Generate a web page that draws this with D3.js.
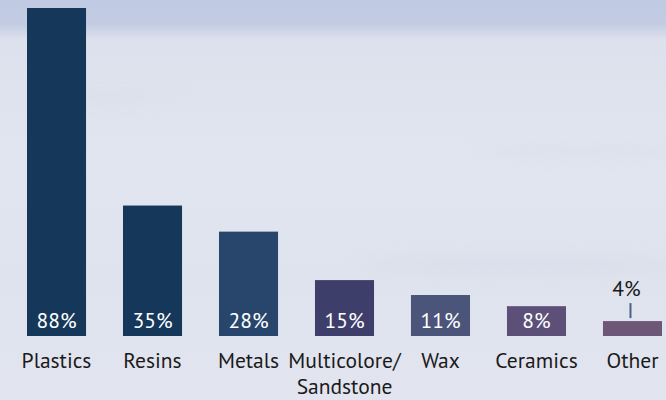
<!DOCTYPE html>
<html>
<head>
<meta charset="utf-8">
<script src="https://cdn.jsdelivr.net/npm/d3@7"></script>
<style>
  html, body { margin: 0; padding: 0; }
  body { width: 666px; height: 400px; overflow: hidden; }
  svg { display: block; }
</style>
</head>
<body>
<div id="chart"></div>
<script>
const categories = ["Plastics", "Resins", "Metals", "Multicolore/\nSandstone", "Wax", "Ceramics", "Other"];
const values = [88, 35, 28, 15, 11, 8, 4];
const valueLabels = ["88%", "35%", "28%", "15%", "11%", "8%", "4%"];
const barColors = ["#15375a", "#15375a", "#28466c", "#3e3e6a", "#4b5479", "#5c5079", "#6e5679"];

const W = 666, H = 400;
const svg = d3.select("#chart").append("svg").attr("width", W).attr("height", H);

// background
const defs = svg.append("defs");
const bg = defs.append("linearGradient").attr("id", "bg").attr("x1", 0).attr("y1", 0).attr("x2", 0).attr("y2", 1);
bg.append("stop").attr("offset", "0%").attr("stop-color", "#c0cae2");
bg.append("stop").attr("offset", "6%").attr("stop-color", "#c3cce3");
bg.append("stop").attr("offset", "10%").attr("stop-color", "#dde1ed");
bg.append("stop").attr("offset", "40%").attr("stop-color", "#e1e5ef");
bg.append("stop").attr("offset", "70%").attr("stop-color", "#dfe3ee");
bg.append("stop").attr("offset", "100%").attr("stop-color", "#e2e5ef");
svg.append("rect").attr("width", W).attr("height", H).attr("fill", "url(#bg)");
const blur = defs.append("filter").attr("id", "blur").attr("x", "-20%").attr("y", "-50%").attr("width", "140%").attr("height", "200%");
blur.append("feGaussianBlur").attr("stdDeviation", 8);
const streaks = svg.append("g").attr("filter", "url(#blur)").attr("fill", "#d5dae7").attr("opacity", 0.5);
streaks.append("ellipse").attr("cx", 110).attr("cy", 98).attr("rx", 70).attr("ry", 4);
streaks.append("ellipse").attr("cx", 580).attr("cy", 152).attr("rx", 110).attr("ry", 5);
streaks.append("ellipse").attr("cx", 520).attr("cy", 265).attr("rx", 160).attr("ry", 9);

const x = d3.scaleBand().domain(categories).range([27, 662]).paddingInner(0.385).paddingOuter(0);
const y = d3.scaleLinear().domain([0, 88]).range([336, 8]);

const font = "'PT Sans', Lato, 'Open Sans', sans-serif";
const fs = 21.5;

const g = svg.append("g");
g.selectAll("rect.bar").data(categories).join("rect")
  .attr("class", "bar")
  .attr("x", d => x(d))
  .attr("width", x.bandwidth())
  .attr("y", (d, i) => y(values[i]))
  .attr("height", (d, i) => y(0) - y(values[i]))
  .attr("fill", (d, i) => barColors[i]);

// value labels
g.selectAll("text.val").data(categories).join("text")
  .attr("class", "val")
  .attr("x", (d, i) => x(d) + x.bandwidth() / 2 - (values[i] >= 8 ? 0 : 6))
  .attr("y", (d, i) => values[i] >= 8 ? y(0) - 8 : y(values[i]) - 25)
  .attr("text-anchor", "middle")
  .attr("font-family", font)
  .attr("font-size", fs)
  .attr("fill", (d, i) => values[i] >= 8 ? "#ffffff" : "#1a1a1a")
  .text((d, i) => valueLabels[i]);

// leader line for small bar
categories.forEach((d, i) => {
  if (values[i] < 8) {
    g.append("line")
      .attr("x1", x(d) + x.bandwidth() / 2 - 2).attr("x2", x(d) + x.bandwidth() / 2 - 2)
      .attr("y1", y(values[i]) - 18).attr("y2", y(values[i]) - 3)
      .attr("stroke", "#4a6088").attr("stroke-width", 2);
  }
});

// x axis (category labels)
const axis = d3.axisBottom(x).tickSize(0).tickPadding(0);
const ax = svg.append("g").attr("transform", `translate(0,${y(0)})`).call(axis);
ax.select(".domain").remove();
ax.selectAll(".tick text").remove();
ax.selectAll(".tick").append("text")
  .attr("text-anchor", "middle")
  .attr("font-family", font)
  .attr("font-size", fs)
  .attr("fill", "#1a1a1a")
  .each(function(d) {
    const lines = d.split("\n");
    const t = d3.select(this);
    lines.forEach((ln, k) => {
      t.append("tspan").attr("x", 0).attr("y", 32 + k * 26).text(ln);
    });
  });
</script>
</body>
</html>
